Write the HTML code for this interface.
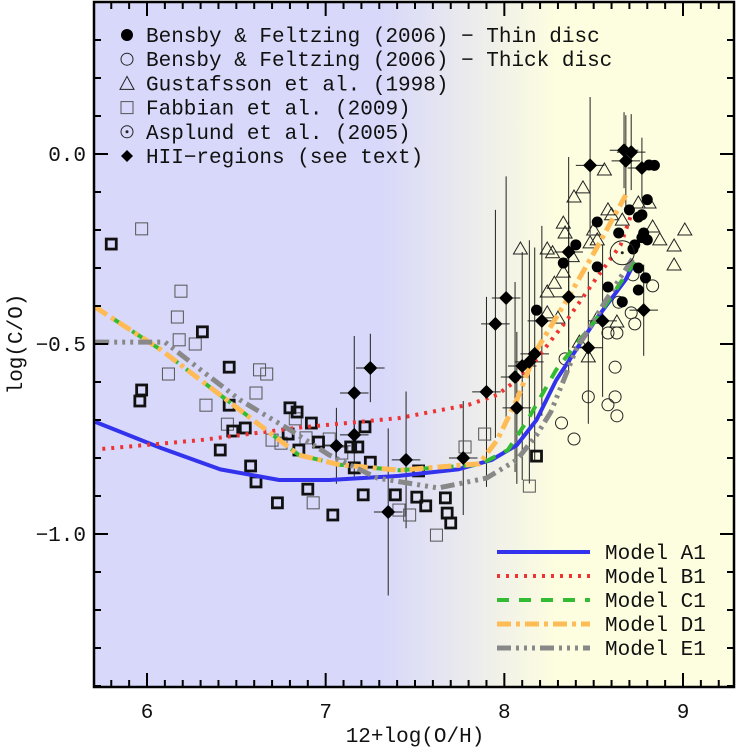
<!DOCTYPE html>
<html><head><meta charset="utf-8"><style>
body{margin:0;background:#fff;width:738px;height:750px;overflow:hidden}
svg text{font-family:"Liberation Mono",monospace;fill:#111}
</style></head><body>
<svg id="chart" width="738" height="750" viewBox="0 0 738 750" xmlns="http://www.w3.org/2000/svg">
<defs>
<linearGradient id="bg" x1="0" x2="1" y1="0" y2="0">
<stop offset="0.45" stop-color="#d8d8fa"/><stop offset="0.72" stop-color="#fdfde0"/>
</linearGradient>
<clipPath id="clip"><rect x="94" y="2" width="640" height="685"/></clipPath>
</defs>
<rect x="94" y="2" width="640" height="685" fill="url(#bg)"/>
<g id="marks" clip-path="url(#clip)"></g>
<g id="axes"></g>
<text x="415" y="742" font-size="21" text-anchor="middle">12+log(O/H)</text>
<text x="0" y="0" font-size="21" text-anchor="middle" transform="translate(22,344) rotate(-90)">log(C/O)</text>
</svg>
<script>
// ---- data ----
const xTicks=[6,7,8,9];
const yTicks=[0.0,-0.5,-1.0];
const yTickLabels=["0.0","\u22120.5","\u22121.0"];
const modelA1x=[5.71,6.08,6.41,6.74,7.02,7.41,7.74,7.93,8.07,8.18,8.29,8.51,8.68,8.73];
const modelA1y=[-0.705,-0.774,-0.83,-0.858,-0.858,-0.847,-0.83,-0.805,-0.766,-0.70,-0.595,-0.437,-0.33,-0.284];
const modelB1x=[5.75,6.3,6.85,7.41,7.8,7.96,8.07,8.18,8.35,8.51,8.65,8.71];
const modelB1y=[-0.776,-0.753,-0.72,-0.695,-0.66,-0.634,-0.595,-0.54,-0.437,-0.33,-0.24,-0.16];
const modelC1x=[5.71,6.08,6.3,6.58,6.85,7.08,7.41,7.86,8.02,8.13,8.29,8.51,8.68,8.73];
const modelC1y=[-0.403,-0.516,-0.595,-0.695,-0.792,-0.818,-0.832,-0.818,-0.779,-0.70,-0.568,-0.437,-0.318,-0.284];
const modelD1x=[5.71,6.08,6.3,6.58,6.85,7.08,7.41,7.86,7.96,8.07,8.18,8.35,8.51,8.68];
const modelD1y=[-0.403,-0.516,-0.595,-0.695,-0.792,-0.818,-0.832,-0.815,-0.753,-0.647,-0.516,-0.384,-0.253,-0.108];
const modelE1x=[5.71,6.1,6.3,6.52,6.8,7.02,7.29,7.63,7.9,8.07,8.18,8.26,8.4,8.57,8.73];
const modelE1y=[-0.495,-0.495,-0.568,-0.647,-0.726,-0.792,-0.853,-0.879,-0.853,-0.805,-0.74,-0.679,-0.516,-0.384,-0.266];
const thinDiscX=[8.81,8.52,8.70,8.75,8.77,8.78,8.80,8.73,8.64,8.40,8.33,8.58,8.52,8.75,8.79,8.75,8.66,8.18,8.84,8.80,8.77,8.72];
const thinDiscY=[-0.029,-0.179,-0.147,-0.166,-0.16,-0.208,-0.226,-0.239,-0.208,-0.239,-0.287,-0.35,-0.297,-0.30,-0.326,-0.358,-0.389,-0.411,-0.03,-0.12,-0.22,-0.25];
const thickDiscX=[8.72,8.83,8.64,8.71,8.73,8.58,8.63,8.62,8.47,8.58,8.62,8.63,8.32,8.39,8.34];
const thickDiscY=[-0.318,-0.347,-0.39,-0.418,-0.447,-0.471,-0.471,-0.561,-0.639,-0.66,-0.639,-0.689,-0.708,-0.75,-0.539];
const gustX=[8.56,8.44,8.39,8.33,8.34,8.09,8.24,8.27,8.38,8.33,8.28,8.24,8.24,8.30,8.52,8.63,8.42,8.47,8.48,8.52,8.58,8.75,8.81,8.83,8.87,8.95,8.95,9.01,8.66,8.50,8.60];
const gustY=[-0.042,-0.089,-0.113,-0.182,-0.208,-0.25,-0.25,-0.26,-0.27,-0.311,-0.34,-0.363,-0.418,-0.432,-0.432,-0.442,-0.495,-0.534,-0.234,-0.226,-0.147,-0.129,-0.129,-0.192,-0.226,-0.242,-0.292,-0.2,-0.174,-0.2,-0.16];
const fabThickX=[5.80,5.96,5.97,6.31,6.46,6.46,6.48,6.55,6.41,6.58,6.61,6.73,6.90,7.04,6.80,6.84,6.92,6.79,6.85,6.96,7.22,7.18,7.14,7.25,7.39,7.16,7.52,7.51,7.67,7.68,7.56,7.70,8.18,7.21];
const fabThickY=[-0.237,-0.65,-0.621,-0.468,-0.561,-0.661,-0.729,-0.721,-0.779,-0.821,-0.863,-0.918,-0.882,-0.95,-0.668,-0.679,-0.708,-0.737,-0.779,-0.758,-0.718,-0.771,-0.771,-0.811,-0.897,-0.826,-0.834,-0.903,-0.905,-0.945,-0.926,-0.971,-0.795,-0.897];
const fabThinX=[5.97,6.19,6.17,6.18,6.27,6.12,6.33,6.63,6.67,6.61,6.45,6.70,6.75,6.89,6.83,7.02,6.93,7.09,7.41,7.62,7.47,7.89,8.14,7.78];
const fabThinY=[-0.197,-0.361,-0.429,-0.489,-0.5,-0.579,-0.661,-0.568,-0.579,-0.629,-0.711,-0.753,-0.761,-0.747,-0.697,-0.75,-0.918,-0.787,-0.937,-1.003,-0.95,-0.737,-0.874,-0.771];
const asplundX=[8.66];
const asplundY=[-0.26];
const hiiX=[7.25,7.16,7.16,7.06,7.35,8.48,8.68,8.01,7.95,8.36,8.21,8.36,8.55,8.47,8.78,8.77,7.90,8.10,8.14,8.17,8.06,8.07,8.67,8.71,7.77,7.45];
const hiiY=[-0.563,-0.629,-0.739,-0.768,-0.942,-0.03,-0.018,-0.379,-0.447,-0.258,-0.439,-0.376,-0.439,-0.51,-0.411,-0.037,-0.626,-0.558,-0.547,-0.526,-0.587,-0.668,0.01,0.005,-0.80,-0.805];
const hiiErr=[0.09,0.15,0.12,0.1,0.22,0.18,0.12,0.32,0.3,0.25,0.25,0.2,0.2,0.2,0.12,0.08,0.25,0.3,0.32,0.28,0.25,0.2,0.1,0.1,0.15,0.18];
const legendLabels=["Bensby & Feltzing (2006) \u2212 Thin disc","Bensby & Feltzing (2006) \u2212 Thick disc","Gustafsson et al. (1998)","Fabbian et al. (2009)","Asplund et al. (2005)","HII\u2212regions (see text)"];
const modelLabels=["Model A1","Model B1","Model C1","Model D1","Model E1"];

// ---- scales ----
const X=v=>147+(v-6)*178.67;
const Y=v=>154-v*380;
const NS="http://www.w3.org/2000/svg";
const marks=document.getElementById('marks'),axes=document.getElementById('axes'),svg=document.getElementById('chart');
function mk(tag,at,parent){const e=document.createElementNS(NS,tag);for(const k in at)e.setAttribute(k,at[k]);(parent||marks).appendChild(e);return e;}

// error bars for HII
hiiX.forEach((x,i)=>{
 const l=mk('line',{x1:X(x),x2:X(x),y1:Y(hiiY[i]+hiiErr[i]),y2:Y(hiiY[i]-hiiErr[i]),stroke:'#222','stroke-width':1});
 
 
 const h=mk('line',{x1:X(x-0.08),x2:X(x+0.08),y1:Y(hiiY[i]),y2:Y(hiiY[i]),stroke:'#222','stroke-width':1});
 
 
});
function sq(x,y,thick){const s=thick?10:12;const r=mk('rect',{x:X(x)-s/2,y:Y(y)-s/2,width:s,height:s,fill:'none',stroke:thick?'#111':'#555','stroke-width':thick?2.8:1});return r;}
fabThinX.forEach((x,i)=>{const r=sq(x,fabThinY[i],false);
 
 });
fabThickX.forEach((x,i)=>{const r=sq(x,fabThickY[i],true);
 
 });
gustX.forEach((x,i)=>{const cx=X(x),cy=Y(gustY[i]);
 const p=mk('polygon',{points:`${cx-7},${cy+5} ${cx+7},${cy+5} ${cx},${cy-7}`,fill:'none',stroke:'#222','stroke-width':1});
 
 });
thickDiscX.forEach((x,i)=>{const c=mk('circle',{cx:X(x),cy:Y(thickDiscY[i]),r:6,fill:'none',stroke:'#222','stroke-width':1});
 
 });

// models
const models=[[modelA1x,modelA1y,'#3333ee','none',4,'model-a1'],[modelB1x,modelB1y,'#ee3333','3,6',4,'model-b1'],[modelC1x,modelC1y,'#33bb33','12,10',4,'model-c1'],[modelD1x,modelD1y,'#ffbb55','14,5,4,5',5,'model-d1'],[modelE1x,modelE1y,'#888888','14,5,3,5,3,5,3,5',5,'model-e1']];
models.forEach(m=>{
 const d=m[0].map((x,i)=>(i?'L':'M')+X(x).toFixed(1)+','+Y(m[1][i]).toFixed(1)).join(' ');
 const p=mk('path',{d:d,fill:'none',stroke:m[2],'stroke-width':m[4],'stroke-dasharray':m[3],'stroke-linejoin':'round'});
 
 
});

thinDiscX.forEach((x,i)=>{const c=mk('circle',{cx:X(x),cy:Y(thinDiscY[i]),r:5.5,fill:'#000'});
 
 });
hiiX.forEach((x,i)=>{const cx=X(x),cy=Y(hiiY[i]);
 const p=mk('polygon',{points:`${cx},${cy-7} ${cx+7},${cy} ${cx},${cy+7} ${cx-7},${cy}`,fill:'#000'});
 
 });
asplundX.forEach((x,i)=>{
 const c=mk('circle',{cx:X(x),cy:Y(asplundY[i]),r:12,fill:'none',stroke:'#222','stroke-width':1});
 
 
 const d=mk('circle',{cx:X(x),cy:Y(asplundY[i]),r:1.5,fill:'#222'});
 
 });

// axes frame & ticks
const L=94,R=734,T=2,B=687;
const fr=mk('rect',{x:L,y:T,width:R-L,height:B-T,fill:'none',stroke:'#000','stroke-width':2.5},axes);


for(let k=57;k<=93;k++){const v=k/10,px=X(v);if(px<L+1||px>R-1)continue;const len=(k%10===0)?14:7;
 mk('line',{x1:px,x2:px,y1:B,y2:B-len,stroke:'#000','stroke-width':2},axes);
 mk('line',{x1:px,x2:px,y1:T,y2:T+len,stroke:'#000','stroke-width':2},axes);}
for(let k=-14;k<=4;k++){const v=k/10,py=Y(v);if(py<T+1||py>B-1)continue;const len=(k%5===0)?14:7;
 mk('line',{x1:L,x2:L+len,y1:py,y2:py,stroke:'#000','stroke-width':2},axes);
 mk('line',{x1:R,x2:R-len,y1:py,y2:py,stroke:'#000','stroke-width':2},axes);}
xTicks.forEach(v=>{const t=mk('text',{x:X(v),y:718,'font-size':21,'text-anchor':'middle'},svg);t.textContent=String(v);
 
 });
yTicks.forEach((v,i)=>{const t=mk('text',{x:86,y:Y(v)+7,'font-size':21,'text-anchor':'end'},svg);t.textContent=yTickLabels[i];
 
 });

// legend (symbols)
const lg=mk('g',{},svg);


legendLabels.forEach((s,i)=>{const y=35+i*24.2,x=127;
 if(i===0)mk('circle',{cx:x,cy:y,r:6,fill:'#000'},lg);
 if(i===1)mk('circle',{cx:x,cy:y,r:6,fill:'none',stroke:'#222'},lg);
 if(i===2)mk('polygon',{points:`${x-7},${y+6} ${x+7},${y+6} ${x},${y-7}`,fill:'none',stroke:'#222'},lg);
 if(i===3)mk('rect',{x:x-6,y:y-6,width:12,height:12,fill:'none',stroke:'#555'},lg);
 if(i===4){mk('circle',{cx:x,cy:y,r:6,fill:'none',stroke:'#222'},lg);mk('circle',{cx:x,cy:y,r:1.5,fill:'#222'},lg);}
 if(i===5)mk('polygon',{points:`${x},${y-6} ${x+6},${y} ${x},${y+6} ${x-6},${y}`,fill:'#000'},lg);
 const t=mk('text',{x:146,y:y+7,'font-size':21},lg);t.textContent=s;
 
 });
// legend (models)
const ml=mk('g',{},svg);


models.forEach((m,i)=>{const y=552+i*24;
 mk('line',{x1:497,x2:590,y1:y,y2:y,stroke:m[2],'stroke-width':m[4],'stroke-dasharray':m[3]},ml);
 const t=mk('text',{x:605,y:y+7,'font-size':21},ml);t.textContent=modelLabels[i];
 
 });
</script>
</body></html>
